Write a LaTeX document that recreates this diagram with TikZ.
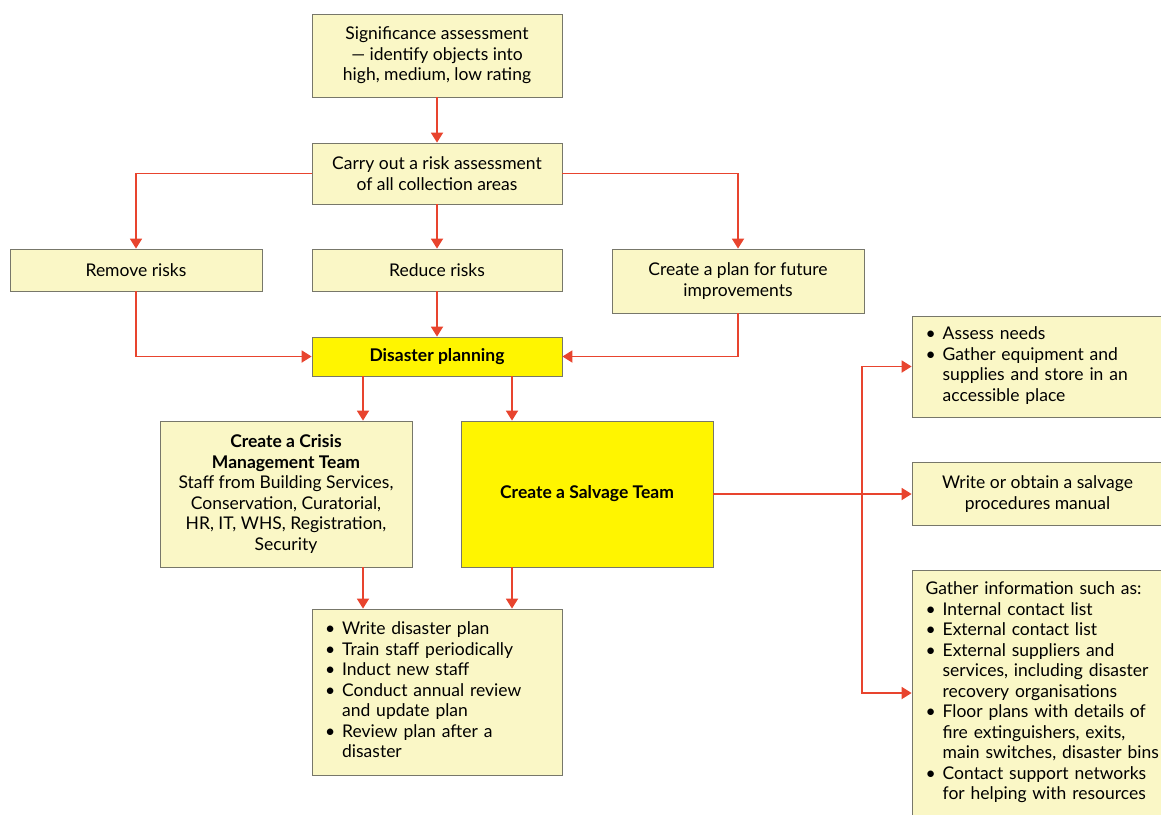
\documentclass[tikz,border=0pt]{standalone}
\usepackage{fontspec}
\setmainfont{Lato}
\usepackage{xcolor}
\usetikzlibrary{arrows.meta}

\definecolor{flowred}{HTML}{E8442E}
\definecolor{paleyellow}{HTML}{FAF7C6}
\definecolor{brightyellow}{HTML}{FFF500}
\definecolor{boxedge}{HTML}{77776A}

\tikzset{
	box/.style={draw=boxedge, line width=0.8pt, fill=paleyellow, align=center, inner sep=0pt,
		font=\fontsize{17.5}{20.5}\selectfont},
	hibox/.style={box, fill=brightyellow, font=\fontsize{17.5}{20.5}\selectfont\bfseries},
	listbox/.style={box, align=left, text width=224pt},
	flow/.style={draw=flowred, line width=1.8pt, -{Triangle[width=12pt,length=10pt]}}
}
\newcommand{\blist}[1]{\begin{tabular}{@{}l@{\hspace{7pt}}l@{}}#1\end{tabular}}

\begin{document}
\begin{tikzpicture}[x=1pt,y=-1pt]
	\useasboundingbox (0,0) rectangle (1161,814);
	% top of the chart
	\node[box, minimum width=250, minimum height=83] (sig) at (437,55.5)
		{Significance assessment\\ --- identify objects into\\ high, medium, low rating};
	\node[box, minimum width=250, minimum height=61] (assess) at (437,173.5)
		{Carry out a risk assessment\\ of all collection areas};
	\node[box, minimum width=252, minimum height=42] (remove) at (136,270) {Remove risks};
	\node[box, minimum width=250, minimum height=42] (reduce) at (437,270) {Reduce risks};
	\node[box, minimum width=252, minimum height=64] (future) at (738,281)
		{Create a plan for future\\ improvements};
	\node[hibox, minimum width=250, minimum height=39] (disaster) at (437,356.5) {Disaster planning};
	% teams
	\node[box, minimum width=252, minimum height=146] (crisis) at (286,494)
		{\textbf{Create a Crisis}\\ \textbf{Management Team}\\ Staff from Building Services,\\
		Conservation, Curatorial,\\ HR, IT, WHS, Registration,\\ Security};
	\node[hibox, minimum width=252, minimum height=146] (salvage) at (587,494) {Create a Salvage Team};
	\node[listbox, minimum width=250, minimum height=166] (tasks) at (437,692)
		{\blist{\textbullet & Write disaster plan\\ \textbullet & Train staff periodically\\
		\textbullet & Induct new staff\\ \textbullet & Conduct annual review\\ & and update plan\\
		\textbullet & Review plan after a\\ & disaster}};
	% salvage side
	\node[listbox, minimum width=251, minimum height=101] (needs) at (1037.5,366.5)
		{\blist{\textbullet & Assess needs\\ \textbullet & Gather equipment and\\
		& supplies and store in an\\ & accessible place}};
	\node[box, minimum width=251, minimum height=63] (manual) at (1037.5,494)
		{Write or obtain a salvage\\ procedures manual};
	\node[listbox, minimum width=251, minimum height=246] (gather) at (1037.5,693)
		{\blist{\multicolumn{2}{@{}l@{}}{Gather information such as:}\\
		\textbullet & Internal contact list\\ \textbullet & External contact list\\
		\textbullet & External suppliers and\\ & services, including disaster\\ & recovery organisations\\
		\textbullet & Floor plans with details of\\ & fire extinguishers, exits,\\ & main switches, disaster bins\\
		\textbullet & Contact support networks\\ & for helping with resources}};
	\coordinate (lft) at (363,0);
	\coordinate (rgt) at (512,0);
	\coordinate (fork) at (862,494);
	% connectors
	\draw[flow] (sig) -- (assess);
	\draw[flow] (assess.west) -| (remove.north);
	\draw[flow] (assess) -- (reduce);
	\draw[flow] (assess.east) -| (future.north);
	\draw[flow] (remove.south) |- (disaster.west);
	\draw[flow] (reduce) -- (disaster);
	\draw[flow] (future.south) |- (disaster.east);
	\draw[flow] (disaster.south -| lft) -- (crisis.north -| lft);
	\draw[flow] (disaster.south -| rgt) -- (salvage.north -| rgt);
	\draw[flow] (crisis.south -| lft) -- (tasks.north -| lft);
	\draw[flow] (salvage.south -| rgt) -- (tasks.north -| rgt);
	\draw[flow] (salvage.east) -- (manual.west);
	\draw[flow] (fork) |- (needs.west);
	\draw[flow] (fork) |- (gather.west);
\end{tikzpicture}
\end{document}
